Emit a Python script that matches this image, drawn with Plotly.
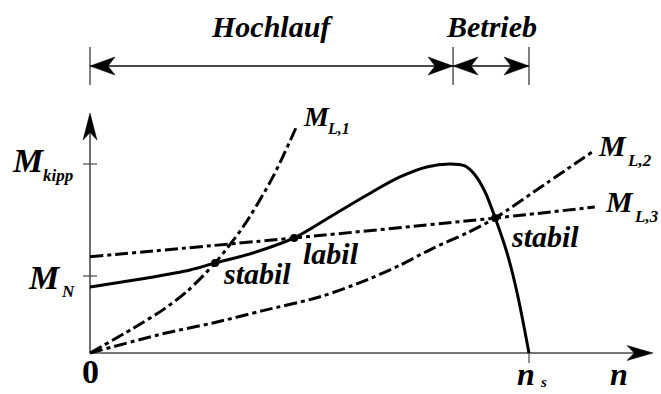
import plotly.graph_objects as go

# Speed n as a fraction of synchronous speed n_s, torque M in units of M_N
n_motor = [0, 0.130, 0.228, 0.285, 0.371, 0.465, 0.554, 0.631, 0.706, 0.767,
           0.820, 0.854, 0.877, 0.900, 0.923, 0.950, 0.973, 1.0]
M_motor = [0.857, 0.974, 1.078, 1.169, 1.299, 1.494, 1.792, 2.052, 2.286, 2.416,
           2.455, 2.429, 2.312, 2.091, 1.753, 1.299, 0.779, 0]

n_L1 = [0, 0.098, 0.166, 0.221, 0.285, 0.349, 0.417, 0.472]
M_L1 = [0, 0.32, 0.56, 0.80, 1.17, 1.64, 2.29, 2.96]

n_L2 = [0, 0.166, 0.280, 0.394, 0.524, 0.631, 0.706, 0.781, 0.859, 0.923, 1.041, 1.144]
M_L2 = [0, 0.25, 0.39, 0.55, 0.73, 0.95, 1.14, 1.36, 1.56, 1.753, 2.21, 2.61]

n_L3 = [0, 0.465, 0.923, 1.150]
M_L3 = [1.25, 1.494, 1.753, 1.896]

# operating points (intersections of motor and load curves)
op_n = [0.285, 0.465, 0.923]
op_M = [1.169, 1.494, 1.753]
op_text = ["stabil", "labil", "stabil"]

M_kipp = 2.455
M_N = 1.0
n_s = 1.0
n_kipp = 0.827

# axis scale: pixels per data unit, origin position in pixels
W, H = 661, 394
X0, Y0 = 90, 353
SX, SY = 439.0, 77.0


def dx(p):
    return p / SX


def dy(p):
    return p / SY


def xd(px):
    return (px - X0) / SX


def yd(py):
    return (Y0 - py) / SY


INK = "black"
AXIS = "#4a4a4a"
DASH = "13px,4px,4px,4px"
SERIF = "Liberation Serif"

fig = go.Figure()

fig.add_trace(go.Scatter(x=n_motor, y=M_motor, mode="lines",
                         line=dict(color=INK, width=3, shape="spline", smoothing=0.9),
                         hoverinfo="skip", showlegend=False))
for xs, ys in [(n_L1, M_L1), (n_L2, M_L2), (n_L3, M_L3)]:
    fig.add_trace(go.Scatter(x=xs, y=ys, mode="lines",
                             line=dict(color=INK, width=3, dash=DASH, shape="spline", smoothing=0.8),
                             hoverinfo="skip", showlegend=False))
fig.add_trace(go.Scatter(x=op_n, y=op_M, mode="markers",
                         marker=dict(color=INK, size=8),
                         hoverinfo="skip", showlegend=False))

shapes = []


def line(x0, y0, x1, y1, color=AXIS, width=1.6):
    shapes.append(dict(type="line", x0=x0, y0=y0, x1=x1, y1=y1,
                       line=dict(color=color, width=width), layer="below"))


def arrow(tx, ty, direction, length, half):
    # filled arrowhead with notched back; tip at (tx, ty)
    if direction in ("left", "right"):
        s = -1 if direction == "right" else 1
        pts = [(tx, ty), (tx + s * dx(length), ty + dy(half)),
               (tx + s * dx(length * 0.72), ty), (tx + s * dx(length), ty - dy(half))]
    else:
        s = -1 if direction == "up" else 1
        pts = [(tx, ty), (tx + dx(half), ty + s * dy(length)),
               (tx, ty + s * dy(length * 0.72)), (tx - dx(half), ty + s * dy(length))]
    path = "M " + " L ".join(f"{a:.5f},{b:.5f}" for a, b in pts) + " Z"
    shapes.append(dict(type="path", path=path, fillcolor=INK,
                       line=dict(color=INK, width=0.5)))


# coordinate axes
x_tip = xd(653)
y_tip = yd(113)
line(0, 0, x_tip - dx(15), 0)
line(0, 0, 0, y_tip - dy(15))
arrow(x_tip, 0, "right", 26, 7.5)
arrow(0, y_tip, "up", 27, 7)

# ticks
line(-dx(7), M_kipp, dx(7), M_kipp, width=1.2)
line(-dx(7), M_N, dx(7), M_N, width=1.2)
line(n_s, 0, n_s, -dy(10), width=1.2)

# range markers above the plot
y_dim = yd(66)
for xv in (0, n_kipp, n_s):
    line(xv, yd(47), xv, yd(85), color=INK, width=1)
line(0, y_dim, n_s, y_dim, width=1.8)
arrow(0, y_dim, "left", 25, 9)
arrow(n_kipp, y_dim, "right", 25, 9)
arrow(n_kipp, y_dim, "left", 25, 9)
arrow(n_s, y_dim, "right", 25, 9)

annotations = []


def text(s, left_px, base_px, size, italic=True, bold=True, anchor="left"):
    # place text by its anchor edge and its baseline, in pixels (paper coords)
    label = s
    if bold:
        label = f"<b>{label}</b>"
    if italic:
        label = f"<i>{label}</i>"
    annotations.append(dict(
        x=left_px / W, y=1 - (base_px + 0.216 * size) / H, xref="paper", yref="paper",
        text=label, showarrow=False, xanchor=anchor, yanchor="bottom", borderpad=0,
        font=dict(family=SERIF, size=size, color=INK)))


text("Hochlauf", X0 + SX * n_kipp / 2, 38, 30, anchor="center")
text("Betrieb", X0 + SX * (n_kipp + n_s) / 2, 38, 30, anchor="center")

text("M", 11, 173, 34)
text("kipp", 42, 182, 17)
text("M", 27, 290, 34)
text("N", 60, 298, 17)

text("M", 302, 127, 28)
text("L,1", 326, 135, 16)
text("M", 597, 157, 30)
text("L,2", 626, 167, 17)
text("M", 604, 213, 30)
text("L,3", 633, 223, 17)

offsets = [(7, 22), (8, 27), (15, 30)]
for n_v, m_v, lab, (ox, oy) in zip(op_n, op_M, op_text, offsets):
    text(lab, X0 + SX * n_v + ox, Y0 - SY * m_v + oy, 30)

text("0", X0, 384, 34, italic=False, anchor="center")
text("n", 516, 386, 32)
text("s", 539, 388, 15)
text("n", 609, 386, 32)

fig.update_layout(
    width=W, height=H, autosize=False,
    margin=dict(l=0, r=0, t=0, b=0),
    paper_bgcolor="white", plot_bgcolor="white",
    xaxis=dict(range=[xd(0), xd(W)], visible=False, fixedrange=True),
    yaxis=dict(range=[yd(H), yd(0)], visible=False, fixedrange=True),
    shapes=shapes, annotations=annotations,
)

fig.write_html("out.html")
